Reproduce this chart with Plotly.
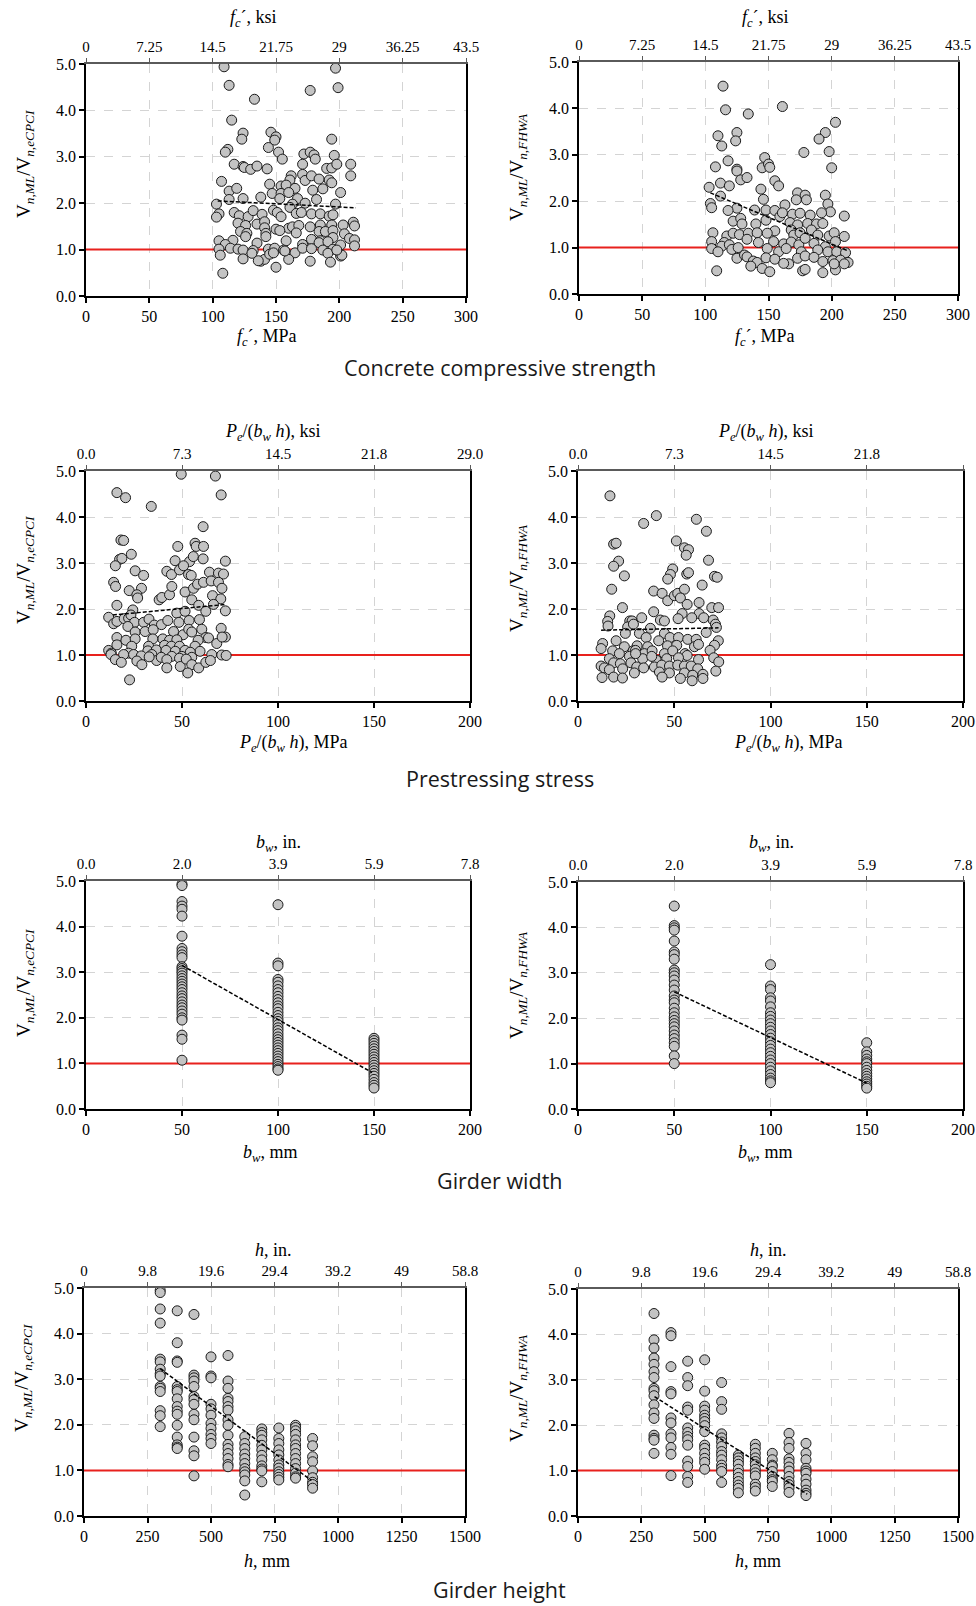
import plotly.graph_objects as go

W, H = 976, 1606
SERIF = "Liberation Serif"
SANS = "Open Sans"

# ---------------- data ----------------
ref_value = 1.0

fc_cpci_points = [(109,4.94),(197,4.91),(113,4.54),(199,4.49),(177,4.43),(133,4.24),(115,3.79),(124,3.51),(123,3.38),(146,3.53),(150,3.43),(149,3.36),(194,3.38),(112,3.16),(110,3.10),(144,3.20),(152,3.10),(155,2.95),(172,3.06),(177,3.10),(180,3.04),(181,2.95),(196,3.03),(117,2.84),(124,2.79),(125,2.77),(130,2.73),(135,2.80),(143,2.74),(171,2.84),(190,2.75),(194,2.76),(198,2.84),(209,2.84),(209,2.59),(107,2.47),(162,2.59),(161,2.50),(171,2.62),(173,2.49),(178,2.59),(184,2.52),(192,2.50),(194,2.44),(145,2.41),(154,2.37),(158,2.39),(165,2.32),(113,2.26),(119,2.32),(147,2.21),(154,2.21),(160,2.23),(179,2.28),(187,2.31),(201,2.23),(103,1.98),(113,2.08),(124,2.10),(138,2.13),(153,2.10),(167,2.10),(182,2.08),(197,1.98),(163,1.98),(173,2.00),(105,1.77),(103,1.70),(117,1.80),(121,1.73),(128,1.71),(132,1.84),(139,1.76),(148,1.85),(151,1.80),(154,1.71),(161,1.91),(166,1.78),(170,1.80),(178,1.77),(185,1.77),(192,1.72),(195,1.75),(120,1.57),(126,1.52),(135,1.55),(141,1.60),(141,1.47),(160,1.46),(163,1.49),(168,1.52),(177,1.49),(185,1.53),(194,1.53),(203,1.53),(211,1.59),(212,1.51),(122,1.39),(127,1.35),(142,1.35),(150,1.44),(153,1.41),(166,1.36),(184,1.39),(189,1.39),(195,1.41),(204,1.34),(126,1.28),(142,1.28),(158,1.19),(171,1.11),(178,1.22),(185,1.19),(195,1.26),(208,1.24),(212,1.21),(105,1.19),(116,1.20),(110,1.11),(135,1.14),(184,1.15),(191,1.17),(201,1.10),(212,1.08),(105,1.01),(114,1.03),(120,1.01),(124,0.99),(132,0.98),(144,1.01),(149,1.03),(156,0.99),(165,0.93),(171,1.03),(178,1.02),(187,0.99),(195,1.01),(106,0.88),(124,0.80),(131,0.92),(138,0.75),(141,0.79),(145,0.90),(148,0.93),(160,0.79),(177,0.75),(191,0.92),(193,0.73),(201,0.86),(202,0.88),(150,0.62),(108,0.49),(136,0.76),(157,0.97),(198,0.99)]

fc_fhwa_points = [(114,4.48),(116,3.97),(134,3.88),(161,4.04),(203,3.70),(195,3.48),(190,3.34),(110,3.41),(125,3.48),(124,3.30),(113,3.19),(178,3.05),(198,3.07),(200,2.72),(118,2.87),(108,2.74),(125,2.69),(125,2.65),(147,2.94),(145,2.72),(150,2.80),(151,2.73),(128,2.46),(133,2.51),(155,2.44),(158,2.33),(103,2.30),(112,2.39),(119,2.33),(144,2.26),(112,2.11),(104,1.95),(105,1.86),(146,2.04),(125,1.85),(118,1.80),(139,1.81),(148,1.81),(155,1.80),(163,1.92),(173,2.18),(179,2.13),(180,2.03),(195,2.13),(197,1.94),(199,1.77),(210,1.68),(172,2.03),(122,1.57),(128,1.63),(129,1.51),(140,1.51),(148,1.59),(159,1.67),(161,1.75),(169,1.72),(175,1.74),(183,1.70),(192,1.75),(167,1.54),(155,1.36),(173,1.49),(181,1.52),(188,1.51),(193,1.52),(106,1.32),(117,1.25),(122,1.31),(127,1.28),(134,1.31),(141,1.32),(149,1.31),(168,1.38),(170,1.27),(175,1.32),(184,1.38),(189,1.27),(198,1.25),(202,1.32),(210,1.24),(105,1.13),(115,1.11),(113,1.03),(119,1.06),(133,1.18),(142,1.11),(154,1.13),(162,1.08),(168,1.12),(174,1.06),(179,1.20),(186,1.09),(195,1.02),(203,1.13),(105,0.98),(110,0.91),(121,0.96),(126,1.00),(149,0.98),(158,0.91),(164,0.98),(176,0.91),(189,0.95),(197,0.91),(204,0.91),(211,0.89),(125,0.77),(131,0.84),(133,0.80),(138,0.71),(141,0.68),(148,0.78),(155,0.75),(166,0.65),(173,0.77),(179,0.82),(186,0.79),(193,0.70),(201,0.72),(207,0.73),(213,0.68),(136,0.60),(145,0.55),(151,0.48),(162,0.66),(177,0.50),(179,0.53),(193,0.46),(203,0.52),(109,0.50),(202,0.65),(210,0.65)]

pe_cpci_points = [(49.6,4.93),(67.4,4.89),(16.1,4.53),(20.6,4.42),(70.4,4.48),(34.0,4.23),(61.0,3.79),(18.2,3.50),(19.6,3.49),(47.8,3.36),(56.8,3.43),(57.4,3.36),(61.2,3.36),(17.5,3.08),(18.7,3.10),(23.6,3.19),(15.3,2.94),(46.4,3.05),(53.9,3.03),(55.9,3.14),(61.0,3.09),(72.6,3.04),(25.6,2.83),(30.0,2.73),(42.1,2.82),(44.5,2.75),(48.7,2.85),(50.8,2.94),(53.4,2.75),(54.8,2.73),(64.3,2.80),(69.0,2.78),(71.6,2.76),(14.4,2.58),(15.4,2.49),(22.5,2.40),(28.9,2.45),(26.5,2.31),(26.9,2.24),(38.1,2.20),(39.5,2.25),(43.5,2.31),(44.7,2.49),(51.6,2.37),(56.0,2.45),(58.1,2.54),(61.2,2.58),(65.2,2.61),(69.0,2.58),(70.8,2.45),(65.9,2.29),(70.2,2.22),(16.1,2.08),(24.4,1.98),(47.3,1.91),(51.6,1.95),(55.1,2.20),(58.7,2.08),(62.4,1.95),(66.4,2.10),(72.6,1.96),(11.8,1.82),(14.4,1.68),(16.1,1.73),(19.9,1.79),(22.2,1.80),(23.4,1.87),(25.3,1.71),(30.0,1.71),(32.8,1.78),(35.6,1.65),(39.3,1.66),(42.6,1.75),(48.4,1.71),(53.7,1.75),(59.1,1.77),(60.3,1.56),(21.8,1.62),(25.6,1.50),(30.8,1.51),(35.0,1.55),(40.0,1.35),(45.6,1.51),(50.6,1.44),(53.5,1.56),(55.1,1.50),(62.4,1.38),(70.4,1.58),(72.6,1.39),(16.1,1.38),(20.8,1.32),(25.6,1.35),(34.8,1.35),(43.5,1.32),(47.3,1.33),(58.4,1.32),(63.8,1.37),(68.1,1.25),(70.9,1.39),(16.1,1.22),(23.8,1.19),(32.6,1.19),(40.9,1.21),(44.5,1.19),(48.7,1.19),(56.8,1.19),(59.4,1.08),(11.8,1.10),(13.2,1.04),(22.2,1.04),(32.2,1.09),(36.6,1.11),(41.7,1.10),(46.5,1.08),(51.6,1.10),(54.3,1.06),(65.5,1.01),(70.7,1.00),(73.0,0.99),(13.0,1.01),(19.6,1.01),(24.8,1.01),(28.8,0.98),(34.3,1.01),(44.7,0.97),(49.9,0.97),(55.1,0.95),(15.3,0.90),(18.4,0.84),(26.5,0.87),(29.1,0.79),(36.8,0.88),(39.2,0.95),(42.1,0.90),(48.7,0.93),(49.1,0.75),(52.2,0.91),(55.1,0.79),(58.7,0.72),(62.4,0.84),(64.8,0.88),(42.1,0.72),(53.0,0.61),(22.7,0.46),(32.9,0.96)]

pe_fhwa_points = [(16.6,4.46),(40.7,4.03),(34.1,3.86),(61.5,3.95),(66.7,3.69),(18.5,3.41),(19.8,3.43),(51.1,3.48),(55.3,3.33),(57.4,3.29),(56.2,3.17),(21.1,3.04),(18.5,2.93),(67.8,3.06),(24.1,2.72),(49.2,2.87),(48.0,2.75),(46.6,2.65),(56.5,2.76),(57.4,2.79),(70.9,2.71),(72.3,2.69),(64.5,2.52),(17.5,2.43),(39.3,2.39),(43.7,2.34),(46.6,2.18),(50.1,2.29),(51.8,2.34),(55.3,2.43),(53.2,2.24),(56.7,2.10),(62.9,2.14),(23.1,2.03),(39.3,1.94),(54.1,1.90),(62.9,1.90),(69.5,2.03),(73.0,2.03),(16.5,1.85),(15.4,1.73),(15.6,1.63),(26.9,1.74),(28.1,1.74),(33.1,1.81),(37.6,1.58),(42.8,1.76),(44.9,1.74),(52.0,1.79),(59.1,1.81),(65.3,1.81),(70.2,1.76),(71.4,1.67),(71.9,1.60),(25.8,1.61),(28.8,1.67),(24.6,1.47),(31.9,1.47),(35.4,1.38),(44.9,1.47),(47.8,1.38),(52.2,1.38),(57.0,1.34),(61.4,1.34),(66.6,1.49),(72.9,1.31),(70.9,1.21),(12.8,1.25),(19.8,1.31),(24.1,1.18),(30.7,1.20),(36.2,1.18),(41.9,1.31),(46.5,1.20),(51.3,1.21),(60.5,1.18),(62.6,1.23),(12.0,1.14),(18.0,1.09),(21.5,1.03),(28.6,1.09),(29.9,1.10),(34.5,1.03),(38.5,1.09),(44.9,1.03),(49.2,1.09),(55.6,1.03),(56.7,0.99),(68.6,1.10),(16.3,0.92),(26.7,0.97),(33.6,0.92),(40.6,0.89),(46.1,0.92),(52.2,0.94),(62.6,0.90),(70.5,0.94),(73.1,0.85),(12.0,0.76),(13.7,0.72),(18.5,0.83),(22.0,0.81),(27.5,0.83),(30.5,0.74),(34.1,0.72),(39.7,0.74),(43.5,0.78),(47.5,0.76),(51.8,0.78),(55.3,0.76),(58.8,0.76),(62.2,0.70),(71.6,0.65),(16.3,0.68),(23.2,0.70),(42.3,0.63),(47.5,0.61),(55.3,0.61),(59.6,0.56),(64.9,0.58),(12.5,0.51),(18.5,0.52),(23.1,0.50),(29.3,0.61),(43.7,0.52),(53.2,0.49),(59.3,0.44),(64.9,0.49),(29.9,1.03),(38.3,0.97)]

bw_levels = [50, 100, 150]
bw_cpci_cols = [
    [4.93,4.90,4.55,4.45,4.38,4.23,3.79,3.52,3.45,3.38,3.32,3.12,3.08,3.03,2.98,2.92,2.86,2.80,2.74,2.68,2.62,2.55,2.48,2.42,2.35,2.28,2.22,2.15,2.08,2.00,1.95,1.62,1.53,1.07],
    [4.48,3.20,3.14,2.84,2.78,2.70,2.62,2.55,2.47,2.40,2.33,2.26,2.20,2.12,2.05,1.98,1.92,1.85,1.78,1.72,1.65,1.58,1.52,1.46,1.40,1.34,1.28,1.22,1.16,1.10,1.04,0.98,0.93,0.88,0.85],
    [1.55,1.50,1.44,1.38,1.32,1.26,1.20,1.14,1.08,1.02,0.96,0.90,0.84,0.78,0.72,0.65,0.58,0.52,0.46],
]
bw_fhwa_cols = [
    [4.47,4.04,3.99,3.94,3.70,3.46,3.40,3.30,3.06,3.00,2.93,2.84,2.73,2.62,2.49,2.40,2.34,2.22,2.12,2.03,1.95,1.88,1.81,1.72,1.63,1.55,1.46,1.38,1.17,1.00],
    [3.18,2.71,2.63,2.45,2.38,2.25,2.12,2.04,1.96,1.88,1.80,1.72,1.64,1.56,1.48,1.40,1.32,1.24,1.16,1.08,1.00,0.92,0.84,0.76,0.68,0.62,0.58],
    [1.46,1.26,1.18,1.10,1.04,1.00,0.92,0.85,0.78,0.72,0.66,0.60,0.55,0.50,0.46],
]

h_levels = [300, 367, 433, 500, 567, 633, 700, 767, 833, 900]
h_cpci_cols = [
    [4.95,4.90,4.54,4.23,3.44,3.38,3.22,3.12,3.07,2.84,2.80,2.73,2.31,2.20,1.96],
    [4.50,3.80,3.40,3.37,2.84,2.77,2.73,2.57,2.40,2.30,2.23,1.99,1.73,1.56,1.51,1.48],
    [4.42,3.09,3.03,2.96,2.84,2.62,2.55,2.45,2.23,2.11,1.73,1.43,1.32,0.88],
    [3.49,3.07,3.03,2.45,2.35,2.21,2.03,1.92,1.79,1.70,1.59],
    [3.52,2.96,2.80,2.58,2.51,2.40,2.32,2.11,1.99,1.77,1.57,1.48,1.37,1.26,1.13,1.08],
    [1.74,1.59,1.48,1.36,1.26,1.15,1.04,0.97,0.90,0.77,0.46],
    [1.91,1.83,1.77,1.67,1.55,1.45,1.33,1.23,1.10,1.03,0.99,0.75],
    [1.93,1.70,1.59,1.45,1.34,1.23,1.12,1.05,0.97,0.91,0.85,0.79],
    [1.99,1.94,1.87,1.79,1.67,1.56,1.48,1.37,1.26,1.15,1.04,0.94,0.86,0.83],
    [1.70,1.54,1.30,1.19,0.99,0.84,0.74,0.69,0.61],
]
h_fhwa_cols = [
    [4.46,3.88,3.70,3.48,3.34,3.18,3.05,2.81,2.76,2.65,2.45,2.27,2.15,1.78,1.71,1.67,1.38],
    [4.04,3.97,3.29,2.74,2.69,2.16,2.05,1.81,1.72,1.51,1.36,0.89],
    [3.41,3.05,2.87,2.40,2.33,1.94,1.84,1.75,1.68,1.56,1.21,1.09,0.87,0.74],
    [3.44,2.75,2.42,2.33,2.22,2.15,2.08,1.99,1.86,1.56,1.49,1.38,1.27,1.18,1.03],
    [2.94,2.52,2.35,1.81,1.72,1.63,1.53,1.42,1.34,1.24,1.12,1.05,0.98,0.74],
    [1.34,1.28,1.21,1.14,1.03,0.94,0.85,0.76,0.68,0.61,0.51],
    [1.58,1.49,1.38,1.28,1.20,1.13,1.03,0.95,0.88,0.70,0.63,0.55],
    [1.38,1.24,1.12,1.09,0.98,0.87,0.80,0.76,0.65],
    [1.82,1.62,1.49,1.26,1.18,1.08,0.99,0.87,0.76,0.69,0.62,0.52],
    [1.60,1.38,1.24,1.05,0.99,0.94,0.81,0.70,0.57,0.50,0.45],
]

# trend lines (start, end)
fc_cpci_trend_x, fc_cpci_trend_y = [104, 213], [2.05, 1.90]
fc_fhwa_trend_x, fc_fhwa_trend_y = [104, 212], [2.18, 0.94]
pe_cpci_trend_x, pe_cpci_trend_y = [14, 73], [1.87, 2.10]
pe_fhwa_trend_x, pe_fhwa_trend_y = [12, 73], [1.54, 1.59]
bw_cpci_trend_x, bw_cpci_trend_y = [50, 149], [3.15, 0.80]
bw_fhwa_trend_x, bw_fhwa_trend_y = [50, 150], [2.58, 0.57]
h_cpci_trend_x, h_cpci_trend_y = [300, 895], [3.23, 0.78]
h_fhwa_trend_x, h_fhwa_trend_y = [302, 905], [2.63, 0.48]

# axis ticks (metric bottom, imperial top labels at same positions)
fc_ticks = [0, 50, 100, 150, 200, 250, 300]
fc_ksi_labels = ["0", "7.25", "14.5", "21.75", "29", "36.25", "43.5"]
pe_ticks = [0, 50, 100, 150, 200]
pe_ksi_labels = ["0.0", "7.3", "14.5", "21.8", "29.0"]
bw_ticks = [0, 50, 100, 150, 200]
bw_in_labels = ["0.0", "2.0", "3.9", "5.9", "7.8"]
h_ticks = [0, 250, 500, 750, 1000, 1250, 1500]
h_in_labels = ["0", "9.8", "19.6", "29.4", "39.2", "49", "58.8"]
y_ticks = [0, 1, 2, 3, 4, 5]

section_titles = ["Concrete compressive strength", "Prestressing stress",
                  "Girder width", "Girder height"]


def unzip(points):
    return [p[0] for p in points], [p[1] for p in points]


def expand(levels, cols):
    xs, ys = [], []
    for lv, col in zip(levels, cols):
        xs += [lv] * len(col)
        ys += col
    return xs, ys


YT_CPCI = "V<sub><i>n,ML</i></sub>/V<sub><i>n,eCPCI</i></sub>"
YT_FHWA = "V<sub><i>n,ML</i></sub>/V<sub><i>n,FHWA</i></sub>"
FC = "<i>f</i><sub><i>c</i></sub>´"
PE = "<i>P</i><sub><i>e</i></sub>/(<i>b</i><sub><i>w</i></sub><i> h</i>)"
BW = "<i>b</i><sub><i>w</i></sub>"
HH = "<i>h</i>"

# layout geometry (pixels): plot box, title positions
panels = [
    dict(data=unzip(fc_cpci_points), tr=(fc_cpci_trend_x, fc_cpci_trend_y), ticks=fc_ticks, top=fc_ksi_labels,
         box=(86, 466, 64, 296), ytitle=YT_CPCI, ttl=FC + ", ksi", btl=FC + ", MPa",
         tpos=(253, 18), bpos=(267, 338), ypos=(25, 164)),
    dict(data=unzip(fc_fhwa_points), tr=(fc_fhwa_trend_x, fc_fhwa_trend_y), ticks=fc_ticks, top=fc_ksi_labels,
         box=(579, 958, 62, 294), ytitle=YT_FHWA, ttl=FC + ", ksi", btl=FC + ", MPa",
         tpos=(765, 18), bpos=(765, 338), ypos=(518, 167)),
    dict(data=unzip(pe_cpci_points), tr=(pe_cpci_trend_x, pe_cpci_trend_y), ticks=pe_ticks, top=pe_ksi_labels,
         box=(86, 470, 471, 701), ytitle=YT_CPCI, ttl=PE + ", ksi", btl=PE + ", MPa",
         tpos=(273, 433), bpos=(293, 743), ypos=(25, 570)),
    dict(data=unzip(pe_fhwa_points), tr=(pe_fhwa_trend_x, pe_fhwa_trend_y), ticks=pe_ticks, top=pe_ksi_labels,
         box=(578, 963, 471, 701), ytitle=YT_FHWA, ttl=PE + ", ksi", btl=PE + ", MPa",
         tpos=(766, 433), bpos=(788, 743), ypos=(518, 578)),
    dict(data=expand(bw_levels, bw_cpci_cols), tr=(bw_cpci_trend_x, bw_cpci_trend_y), ticks=bw_ticks, top=bw_in_labels,
         box=(86, 470, 881, 1109), ytitle=YT_CPCI, ttl=BW + ", in.", btl=BW + ", mm",
         tpos=(278, 843), bpos=(270, 1153), ypos=(25, 983)),
    dict(data=expand(bw_levels, bw_fhwa_cols), tr=(bw_fhwa_trend_x, bw_fhwa_trend_y), ticks=bw_ticks, top=bw_in_labels,
         box=(578, 963, 882, 1109), ytitle=YT_FHWA, ttl=BW + ", in.", btl=BW + ", mm",
         tpos=(771, 843), bpos=(765, 1153), ypos=(518, 985)),
    dict(data=expand(h_levels, h_cpci_cols), tr=(h_cpci_trend_x, h_cpci_trend_y), ticks=h_ticks, top=h_in_labels,
         box=(84, 465, 1288, 1516), ytitle=YT_CPCI, ttl=HH + ", in.", btl=HH + ", mm",
         tpos=(273, 1250), bpos=(267, 1561), ypos=(23, 1378)),
    dict(data=expand(h_levels, h_fhwa_cols), tr=(h_fhwa_trend_x, h_fhwa_trend_y), ticks=h_ticks, top=h_in_labels,
         box=(578, 958, 1289, 1516), ytitle=YT_FHWA, ttl=HH + ", in.", btl=HH + ", mm",
         tpos=(768, 1250), bpos=(758, 1561), ypos=(518, 1388)),
]
section_pos = [367, 779, 1180, 1589]
section_x = 500

fig = go.Figure()
layout = dict(template="none", width=W, height=H, autosize=False,
              margin=dict(l=0, r=0, t=0, b=0, pad=0, autoexpand=False),
              font=dict(family=SERIF, size=16, color="black"),
              paper_bgcolor="white", plot_bgcolor="white", showlegend=False,
              annotations=[])

def px(x):
    return x / W

def py(y):
    return 1 - y / H

GRID = "#d4d4d4"
TICKFONT = dict(family=SERIF, size=16, color="black")
for i, p in enumerate(panels):
    n = i + 1
    xb = "x" if n == 1 else f"x{n}"
    yb = "y" if n == 1 else f"y{n}"
    xt = f"x{n + 8}"
    l, r, t, b = p["box"]
    xr = [p["ticks"][0], p["ticks"][-1]]
    xs, ys = p["data"]

    # reference line at 1.0
    fig.add_trace(go.Scatter(x=xr, y=[ref_value, ref_value], mode="lines",
                             line=dict(color="#e8211d", width=2), xaxis=xb, yaxis=yb, hoverinfo="skip"))
    fig.add_trace(go.Scatter(x=xs, y=ys, mode="markers",
                             marker=dict(size=10, color="#c3c3c3", line=dict(color="#1a1a1a", width=1)),
                             xaxis=xb, yaxis=yb))
    fig.add_trace(go.Scatter(x=p["tr"][0], y=p["tr"][1], mode="lines",
                             line=dict(color="black", width=1.5, dash="4px,2px"), xaxis=xt, yaxis=yb,
                             hoverinfo="skip"))

    layout["xaxis" if n == 1 else f"xaxis{n}"] = dict(
        domain=[px(l), px(r)], anchor=yb, range=xr, tickmode="array", tickvals=p["ticks"],
        ticktext=[str(v) for v in p["ticks"]], automargin=False,
        showgrid=True, gridcolor=GRID, griddash="dash", gridwidth=1, zeroline=False,
        showline=True, linecolor="black", linewidth=1.5, ticks="outside", ticklen=5,
        tickcolor="black", tickwidth=1.5, tickfont=TICKFONT)
    layout[f"xaxis{n + 8}"] = dict(
        overlaying=xb, anchor=yb, side="top", range=xr, tickmode="array", tickvals=p["ticks"],
        ticktext=p["top"], automargin=False,
        showgrid=False, zeroline=False, showline=True, linecolor="#5a5a5a", linewidth=1.5,
        ticks="outside", ticklen=4, tickcolor="#5a5a5a", tickwidth=1.2,
        tickfont=dict(family=SERIF, size=15, color="black"))
    layout["yaxis" if n == 1 else f"yaxis{n}"] = dict(
        domain=[py(b), py(t)], anchor=xb, range=[0, 5], tickmode="array", tickvals=y_ticks,
        ticktext=[f"{v:.1f}" for v in y_ticks], automargin=False,
        showgrid=True, gridcolor=GRID, griddash="dash", gridwidth=1, zeroline=False,
        showline=True, mirror=True, linecolor="black", linewidth=1.5, ticks="outside", ticklen=5,
        tickcolor="black", tickwidth=1.5, tickfont=TICKFONT)

    tf = dict(family=SERIF, size=18, color="black")
    layout["annotations"] += [
        dict(text=p["ttl"], x=px(p["tpos"][0]), y=py(p["tpos"][1]), xref="paper", yref="paper",
             showarrow=False, font=tf, xanchor="center", yanchor="middle"),
        dict(text=p["btl"], x=px(p["bpos"][0]), y=py(p["bpos"][1]), xref="paper", yref="paper",
             showarrow=False, font=tf, xanchor="center", yanchor="middle"),
        dict(text=p["ytitle"], x=px(p["ypos"][0]), y=py(p["ypos"][1]), xref="paper", yref="paper",
             showarrow=False, font=dict(family=SERIF, size=19, color="black"), textangle=-90,
             xanchor="center", yanchor="middle"),
    ]

for title, yy in zip(section_titles, section_pos):
    layout["annotations"].append(dict(text=title, x=px(section_x), y=py(yy), xref="paper", yref="paper",
                                      showarrow=False, xanchor="center", yanchor="middle",
                                      font=dict(family=SANS, size=21.5, color="#1a1a1a")))

fig.update_layout(**layout)
fig.write_html("out.html", config={"displayModeBar": False},
               post_script="document.body.style.margin='0';document.body.style.padding='0';"
                           "document.documentElement.style.overflow='hidden';")
